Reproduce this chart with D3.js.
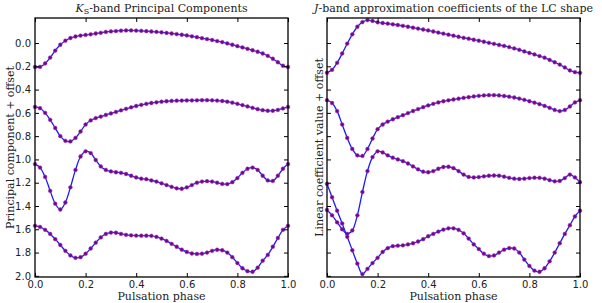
<!DOCTYPE html>
<html><head><meta charset="utf-8">
<script src="https://cdn.jsdelivr.net/npm/d3@7"></script>
<style>
html,body{margin:0;padding:0;background:#fff;}
svg{display:block;}
</style></head>
<body>
<svg id="chart" width="602" height="303"></svg>
<script>
// ---- data ----
const phase = [0.00,0.02,0.04,0.06,0.08,0.10,0.12,0.14,0.16,0.18,0.20,0.22,0.24,0.26,0.28,0.30,0.32,0.34,0.36,0.38,0.40,0.42,0.44,0.46,0.48,0.50,0.52,0.54,0.56,0.58,0.60,0.62,0.64,0.66,0.68,0.70,0.72,0.74,0.76,0.78,0.80,0.82,0.84,0.86,0.88,0.90,0.92,0.94,0.96,0.98,1.00];

const ksPC1 = [0.206,0.205,0.175,0.125,0.065,0.015,-0.02,-0.043,-0.056,-0.064,-0.07,-0.075,-0.082,-0.088,-0.095,-0.1,-0.103,-0.106,-0.108,-0.108,-0.107,-0.105,-0.102,-0.099,-0.096,-0.092,-0.087,-0.082,-0.077,-0.071,-0.065,-0.058,-0.05,-0.042,-0.034,-0.026,-0.017,-0.008,0.003,0.015,0.027,0.038,0.05,0.062,0.075,0.09,0.11,0.135,0.165,0.195,0.206];
const ksPC2 = [0.549,0.56,0.6,0.66,0.73,0.8,0.84,0.845,0.815,0.76,0.70,0.665,0.645,0.632,0.618,0.605,0.592,0.578,0.565,0.552,0.541,0.531,0.522,0.515,0.509,0.504,0.5,0.497,0.495,0.494,0.493,0.493,0.492,0.491,0.491,0.492,0.494,0.498,0.504,0.512,0.522,0.533,0.545,0.557,0.568,0.577,0.582,0.582,0.575,0.562,0.549];
const ksPC3 = [1.04,1.07,1.15,1.27,1.38,1.43,1.37,1.24,1.09,0.975,0.93,0.945,1.005,1.06,1.09,1.103,1.11,1.115,1.125,1.14,1.155,1.165,1.17,1.18,1.19,1.205,1.22,1.235,1.248,1.252,1.24,1.22,1.2,1.19,1.187,1.19,1.2,1.21,1.212,1.195,1.16,1.115,1.08,1.07,1.09,1.14,1.18,1.185,1.14,1.08,1.04];
const ksPC4 = [1.57,1.58,1.605,1.64,1.685,1.735,1.785,1.825,1.845,1.84,1.81,1.765,1.715,1.67,1.64,1.628,1.63,1.64,1.648,1.652,1.654,1.655,1.655,1.656,1.665,1.68,1.7,1.725,1.75,1.775,1.795,1.808,1.812,1.81,1.8,1.785,1.776,1.78,1.8,1.84,1.89,1.935,1.96,1.965,1.93,1.87,1.82,1.75,1.675,1.605,1.57];

const jC1 = [0.255,0.23,0.17,0.09,0.005,-0.075,-0.14,-0.18,-0.197,-0.19,-0.178,-0.172,-0.167,-0.161,-0.155,-0.148,-0.14,-0.132,-0.124,-0.116,-0.108,-0.099,-0.09,-0.081,-0.072,-0.063,-0.054,-0.045,-0.037,-0.028,-0.02,-0.011,-0.002,0.007,0.016,0.025,0.035,0.046,0.058,0.072,0.085,0.098,0.112,0.126,0.145,0.165,0.185,0.21,0.235,0.25,0.256];
const jC2 = [0.491,0.515,0.585,0.7,0.815,0.91,0.965,0.97,0.91,0.82,0.74,0.7,0.675,0.655,0.637,0.62,0.602,0.584,0.567,0.551,0.536,0.522,0.51,0.5,0.492,0.485,0.478,0.471,0.465,0.459,0.454,0.45,0.448,0.448,0.45,0.455,0.461,0.468,0.477,0.488,0.5,0.512,0.525,0.54,0.557,0.575,0.585,0.575,0.545,0.51,0.491];
const jC3 = [1.434,1.48,1.54,1.6,1.64,1.61,1.48,1.28,1.1,0.98,0.93,0.94,0.965,0.985,1.0,1.015,1.035,1.06,1.085,1.105,1.11,1.1,1.08,1.065,1.063,1.075,1.1,1.13,1.15,1.155,1.152,1.145,1.14,1.138,1.14,1.148,1.158,1.165,1.168,1.165,1.16,1.157,1.158,1.165,1.178,1.188,1.185,1.16,1.13,1.155,1.195];
const jC4 = [1.21,1.325,1.44,1.55,1.665,1.78,1.895,1.985,1.94,1.89,1.845,1.795,1.762,1.745,1.741,1.738,1.73,1.72,1.705,1.685,1.66,1.64,1.62,1.603,1.592,1.592,1.605,1.635,1.68,1.73,1.77,1.81,1.83,1.825,1.8,1.775,1.762,1.765,1.8,1.86,1.915,1.955,1.965,1.935,1.875,1.8,1.72,1.64,1.565,1.49,1.44];

const xTickValues = [0.0,0.2,0.4,0.6,0.8,1.0];
const yTickValues = [0.0,0.2,0.4,0.6,0.8,1.0,1.2,1.4,1.6,1.8,2.0];

const panels = [
  {left:35, right:288, series:[ksPC1,ksPC2,ksPC3,ksPC4], yLabels:true,
   ylab:"Principal component + offset", ylabX:10, title:"ks"},
  {left:327, right:580, series:[jC1,jC2,jC3,jC4], yLabels:false,
   ylab:"Linear coefficient value + offset", ylabX:319, title:"j"}
];

// ---- drawing ----
const svg = d3.select("#chart");
const yTop = 18, yBottom = 277;
const fmt = d3.format(".1f");
const serif = "'DejaVu Serif', serif";
const sans = "'DejaVu Sans', sans-serif";

panels.forEach(p => {
  const x = d3.scaleLinear().domain([0,1]).range([p.left, p.right]);
  const y = d3.scaleLinear().domain([-0.215, 2.01]).range([yTop, yBottom]);
  const g = svg.append("g");

  const line = d3.line().x((d,i)=>x(phase[i])).y(d=>y(d)).curve(d3.curveCatmullRom);
  p.series.forEach(s => {
    g.append("path").datum(s).attr("d", line)
      .attr("fill","none").attr("stroke","#1a1aff").attr("stroke-width",1.3);
    g.selectAll(null).data(s).enter().append("circle")
      .attr("cx",(d,i)=>x(phase[i])).attr("cy",d=>y(d)).attr("r",1.9)
      .attr("fill","#680c84").attr("stroke","#b437c0").attr("stroke-width",0.5);
  });

  const ax = (axis, tr) => {
    const a = g.append("g").attr("transform", tr).call(axis);
    a.select(".domain").remove();
    a.selectAll(".tick line").attr("stroke","#000").attr("stroke-width",1);
    a.selectAll("text").attr("font-family",sans).attr("font-size",10).attr("fill","#222");
    return a;
  };
  ax(d3.axisBottom(x).tickValues(xTickValues).tickFormat(fmt).tickSize(-4).tickPadding(4), `translate(0,${yBottom})`);
  ax(d3.axisTop(x).tickValues(xTickValues).tickFormat("").tickSize(-4), `translate(0,${yTop})`);
  ax(d3.axisLeft(y).tickValues(yTickValues).tickFormat(p.yLabels ? fmt : "").tickSize(-4).tickPadding(4), `translate(${p.left},0)`);
  ax(d3.axisRight(y).tickValues(yTickValues).tickFormat("").tickSize(-4), `translate(${p.right},0)`);

  g.append("rect").attr("x",p.left).attr("y",yTop).attr("width",p.right-p.left).attr("height",yBottom-yTop)
    .attr("fill","none").attr("stroke","#000").attr("stroke-width",1.3);

  g.append("text").attr("x",(p.left+p.right)/2).attr("y",300).attr("text-anchor","middle")
    .attr("font-family",serif).attr("font-size",11).attr("fill","#222").text("Pulsation phase");
  g.append("text").attr("transform",`translate(${p.ylabX},${(yTop+yBottom)/2}) rotate(-90)`)
    .attr("text-anchor","middle").attr("dominant-baseline","central")
    .attr("font-family",serif).attr("font-size",11).attr("fill","#222").text(p.ylab);
  const t = g.append("text").attr("x",(p.left+p.right)/2).attr("y",12).attr("text-anchor","middle")
    .attr("font-family",serif).attr("font-size",11).attr("fill","#222");
  if (p.title === "ks") {
    t.append("tspan").attr("font-style","italic").text("K");
    t.append("tspan").attr("font-size",8).attr("dy",2).text("S");
    t.append("tspan").attr("dy",-2).text("-band Principal Components");
  } else {
    t.append("tspan").attr("font-style","italic").text("J");
    t.append("tspan").text("-band approximation coefficients of the LC shape");
  }
});
</script>
</body></html>
